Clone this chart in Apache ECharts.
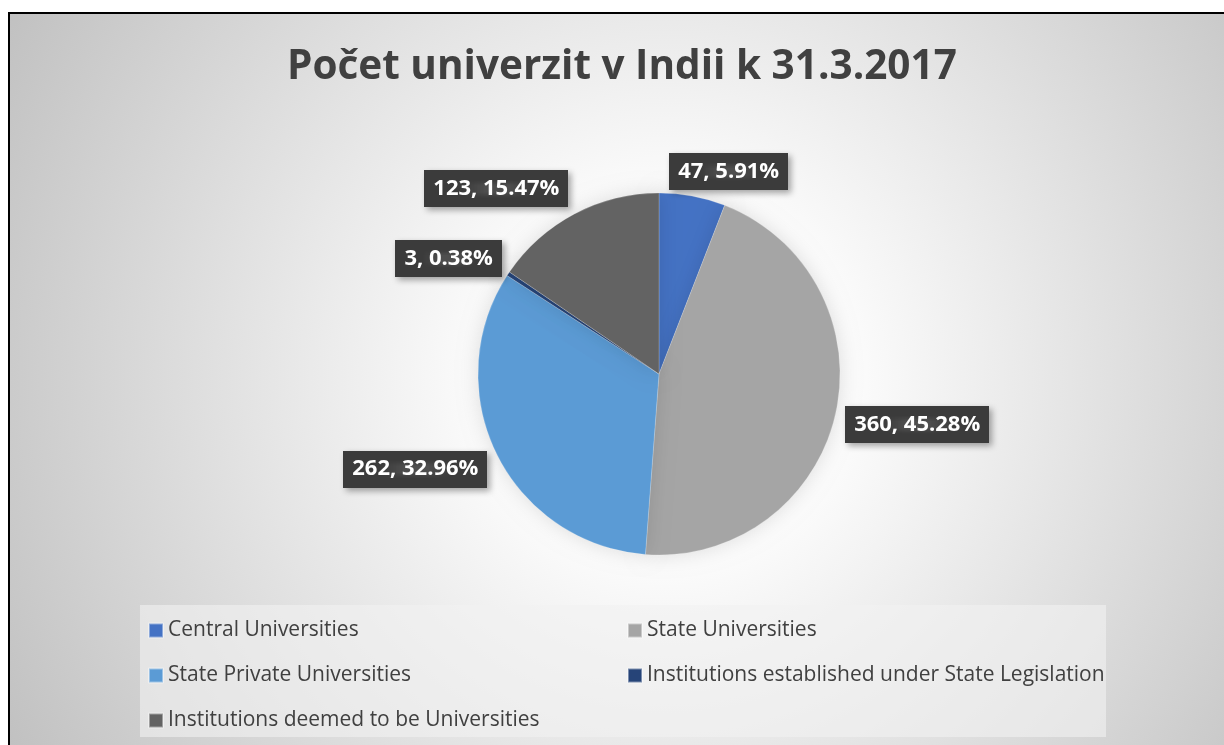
<!DOCTYPE html>
<html>
<head>
<meta charset="utf-8">
<script src="https://cdn.jsdelivr.net/npm/echarts@6/dist/echarts.min.js"></script>
<style>
  html, body { margin: 0; padding: 0; background: #fff; }
  #chart { width: 1224px; height: 745px; }
</style>
</head>
<body>
<div id="chart"></div>
<script>
// data
const categories = [
  'Central Universities',
  'State Universities',
  'State Private Universities',
  'Institutions established under State Legislation',
  'Institutions deemed to be Universities'
];
const counts = [47, 360, 262, 3, 123];
const colors = ['#4472C4', '#A5A5A5', '#5B9BD5', '#264478', '#636363'];

const chart = echarts.init(document.getElementById('chart'));
const total = counts.reduce((a, b) => a + b, 0);

// small dotted pattern for the label boxes
const dots = document.createElement('canvas');
dots.width = 6;
dots.height = 6;
const dctx = dots.getContext('2d');
dctx.fillStyle = '#3b3b3b';
dctx.fillRect(0, 0, 6, 6);
dctx.fillStyle = '#4e4e4e';
dctx.fillRect(2, 2, 2, 2);

// label nudges so boxes sit like in the original
const labelShift = [
  { dx: -61, dy: -10 },
  { dx: -40, dy: 7 },
  { dx: 39, dy: 8 },
  { dx: 41, dy: -7 },
  { dx: 36, dy: -12 }
];

const legendText = { fontFamily: 'Open Sans', fontSize: 21, color: '#404040' };

chart.setOption({
  animation: false,
  graphic: [
    {
      type: 'rect',
      z: -10,
      shape: { x: 9, y: 13, width: 1240, height: 760 },
      style: {
        fill: new echarts.graphic.RadialGradient(0.53, 0.48, 1.0, [
          { offset: 0, color: '#ffffff' },
          { offset: 0.25, color: '#fbfbfb' },
          { offset: 1, color: '#c0c0c0' }
        ]),
        stroke: '#000',
        lineWidth: 2
      }
    },
    {
      type: 'rect',
      z: -5,
      shape: { x: 140, y: 605, width: 966, height: 132 },
      style: { fill: 'rgba(242,242,242,0.6)' }
    }
  ],
  title: {
    text: 'Počet univerzit v Indii k 31.3.2017',
    left: 282,
    top: 42,
    textStyle: {
      fontFamily: 'Open Sans',
      fontSize: 40.5,
      fontWeight: 'bold',
      color: '#404040'
    }
  },
  legend: [
    {
      data: [categories[0], categories[2], categories[4]],
      orient: 'vertical',
      left: 148,
      top: 620,
      padding: 0,
      itemGap: 24,
      itemWidth: 14,
      itemHeight: 14,
      icon: 'rect',
      selectedMode: false,
      textStyle: legendText
    },
    {
      data: [categories[1], categories[3]],
      orient: 'vertical',
      left: 627,
      top: 620,
      padding: 0,
      itemGap: 24,
      itemWidth: 14,
      itemHeight: 14,
      icon: 'rect',
      selectedMode: false,
      textStyle: legendText
    }
  ],
  series: [
    {
      type: 'pie',
      center: [659, 374],
      radius: 181,
      startAngle: 90,
      clockwise: true,
      data: categories.map((name, i) => ({
        name: name,
        value: counts[i],
        itemStyle: { color: colors[i] }
      })),
      itemStyle: {
        borderColor: 'rgba(255,255,255,0.4)',
        borderWidth: 0.5,
        shadowBlur: 20,
        shadowColor: 'rgba(0,0,0,0.12)'
      },
      label: {
        show: true,
        position: 'outside',
        formatter: p => p.value + ', ' + (p.value / total * 100).toFixed(2) + '%',
        fontFamily: 'Open Sans',
        fontWeight: 'bold',
        fontSize: 22,
        color: '#fff',
        backgroundColor: { image: dots, repeat: 'repeat' },
        padding: [8, 9, 7, 9],
        shadowBlur: 6,
        shadowOffsetX: 3,
        shadowOffsetY: 3,
        shadowColor: 'rgba(0,0,0,0.35)'
      },
      labelLine: { show: false },
      labelLayout: p => labelShift[p.dataIndex]
    }
  ]
});
</script>
</body>
</html>
